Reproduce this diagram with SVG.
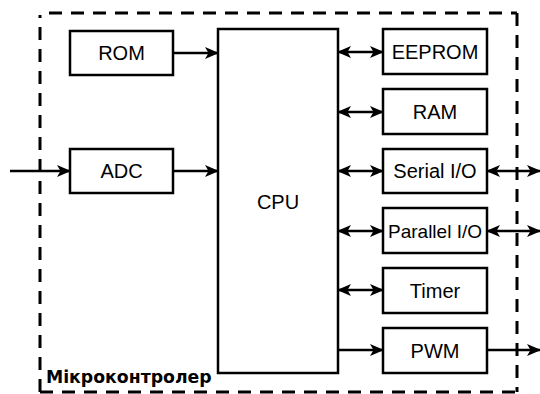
<svg xmlns="http://www.w3.org/2000/svg" width="540" height="394" viewBox="0 0 540 394">
<defs>
<marker id="ah" viewBox="0 0 14 12" refX="13" refY="6" markerWidth="14" markerHeight="12" markerUnits="userSpaceOnUse" orient="auto-start-reverse">
<path d="M0,0 L14,6 L0,12 L3.5,6 z" fill="#000"/>
</marker>
</defs>
<style>
.box{fill:#fff;stroke:#000;stroke-width:2.5}
.lbl{font-family:"Liberation Sans",Arial,sans-serif;font-size:20px;text-anchor:middle;fill:#000}
.c{stroke:#000;stroke-width:2.5;fill:none}
.b{stroke:#000;stroke-width:3;fill:none;stroke-dasharray:13 9}
</style>
<rect x="0" y="0" width="540" height="394" fill="#fff"/>
<g id="border">
<path class="b" d="M49,13 L517,13 M517,13 L517,392 M40,392 L517,392 M40,392 L40,15"/>
</g>
<g id="connectors">
<path class="c" d="M173,53 L218,53" marker-end="url(#ah)"/>
<path class="c" d="M173,171 L218,171" marker-end="url(#ah)"/>
<path class="c" d="M10,171 L70,171" marker-end="url(#ah)"/>
<path class="c" d="M338,52 L383,52" marker-start="url(#ah)" marker-end="url(#ah)"/>
<path class="c" d="M338,112 L383,112" marker-start="url(#ah)" marker-end="url(#ah)"/>
<path class="c" d="M338,171 L383,171" marker-start="url(#ah)" marker-end="url(#ah)"/>
<path class="c" d="M338,231 L383,231" marker-start="url(#ah)" marker-end="url(#ah)"/>
<path class="c" d="M338,290 L383,290" marker-start="url(#ah)" marker-end="url(#ah)"/>
<path class="c" d="M338,350 L383,350" marker-end="url(#ah)"/>
<path class="c" d="M487,171 L540,171" marker-start="url(#ah)" marker-end="url(#ah)"/>
<path class="c" d="M487,231 L540,231" marker-start="url(#ah)" marker-end="url(#ah)"/>
<path class="c" d="M487,350 L540,350" marker-end="url(#ah)"/>
</g>
<g id="rom"><rect class="box" x="70" y="31" width="103" height="44"/><text class="lbl" x="121.5" y="60">ROM</text></g>
<g id="adc"><rect class="box" x="70" y="149" width="103" height="44"/><text class="lbl" x="121.5" y="178">ADC</text></g>
<g id="cpu"><rect class="box" x="218" y="29" width="120" height="344"/><text class="lbl" x="278" y="209">CPU</text></g>
<g id="eeprom"><rect class="box" x="383" y="29" width="104" height="45"/><text class="lbl" x="435" y="59">EEPROM</text></g>
<g id="ram"><rect class="box" x="383" y="89" width="104" height="45"/><text class="lbl" x="435" y="119">RAM</text></g>
<g id="serial"><rect class="box" x="383" y="149" width="104" height="44"/><text class="lbl" x="435" y="178">Serial I/O</text></g>
<g id="parallel"><rect class="box" x="383" y="208" width="104" height="45"/><text class="lbl" x="435" y="238" style="font-size:19px">Parallel I/O</text></g>
<g id="timer"><rect class="box" x="383" y="268" width="104" height="45"/><text class="lbl" x="435" y="298">Timer</text></g>
<g id="pwm"><rect class="box" x="383" y="328" width="104" height="45"/><text class="lbl" x="435" y="358">PWM</text></g>
<text x="46" y="383" style="font-family:'DejaVu Sans',Verdana,sans-serif;font-size:17.3px;font-weight:bold;fill:#000">Мікроконтролер</text>
</svg>
